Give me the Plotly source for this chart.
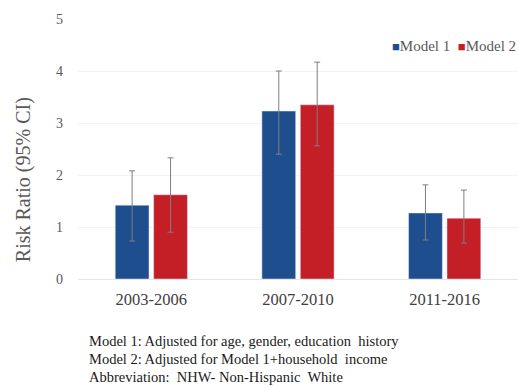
import plotly.graph_objects as go

# Values
periods = ['2003-2006', '2007-2010', '2011-2016']

model1 = [1.42, 3.23, 1.27]
model1_upper = [2.08, 4.00, 1.81]
model1_lower = [0.73, 2.40, 0.75]

model2 = [1.62, 3.35, 1.17]
model2_upper = [2.33, 4.17, 1.71]
model2_lower = [0.90, 2.56, 0.69]

y_ticks = [0, 1, 2, 3, 4, 5]

notes = [
    'Model 1: Adjusted for age, gender, education  history',
    'Model 2: Adjusted for Model 1+household  income',
    'Abbreviation:  NHW- Non-Hispanic  White',
]

serif = 'Liberation Serif'
grey = '#595959'
blue = '#1f4e8f'
red = '#c41e26'


def err(vals, up, lo):
    return dict(
        type='data', symmetric=False,
        array=[u - v for u, v in zip(up, vals)],
        arrayminus=[v - l for v, l in zip(vals, lo)],
        color='#7f7f7f', thickness=1, width=3,
    )


fig = go.Figure()
fig.add_trace(go.Bar(x=periods, y=model1, name='Model 1',
                     marker=dict(color=blue),
                     error_y=err(model1, model1_upper, model1_lower)))
fig.add_trace(go.Bar(x=periods, y=model2, name='Model 2',
                     marker=dict(color=red),
                     error_y=err(model2, model2_upper, model2_lower)))

# legend drawn as text so the swatches sit tight against the labels
legend_txt = '&nbsp;&nbsp;'.join(
    f'<span style="color:{t.marker.color};font-size:13px">■</span>{t.name}' for t in fig.data)
fig.add_annotation(text=legend_txt, xref='paper', yref='paper', x=1.0, y=0.895,
                   xanchor='right', yanchor='middle', showarrow=False,
                   font=dict(family=serif, size=15, color=grey))

# y-axis title
fig.add_annotation(text='Risk Ratio (95% CI)', xref='paper', yref='paper',
                   x=-0.125, y=0.38, xanchor='center', yanchor='middle', textangle=-90,
                   showarrow=False, font=dict(family=serif, size=20, color=grey))

for i, line in enumerate(notes):
    fig.add_annotation(text=line, xref='paper', yref='paper',
                       x=0.02, y=-0.24 - i * 0.069, xanchor='left', yanchor='middle',
                       showarrow=False, font=dict(family=serif, size=14.5, color='#1a1a1a'))

fig.update_layout(
    width=518, height=386,
    margin=dict(l=78, r=0, t=19, b=107),
    paper_bgcolor='white', plot_bgcolor='white',
    barmode='group', bargap=0.476, bargroupgap=0.12,
    font=dict(family=serif, color=grey),
    showlegend=False,
    yaxis=dict(range=[0, 5], tickvals=y_ticks, showgrid=True, gridcolor='#f2f2f2',
               zeroline=False, showline=False, ticks='', ticklabelstandoff=14,
               tickfont=dict(family=serif, size=14, color=grey)),
    xaxis=dict(showline=True, linecolor='#e6e6e6', ticks='', ticklabelstandoff=5,
               tickfont=dict(family=serif, size=16.5, color='#404040')),
)

fig.write_html('out.html', config={'displayModeBar': False},
               post_script="document.body.style.margin='0';")
